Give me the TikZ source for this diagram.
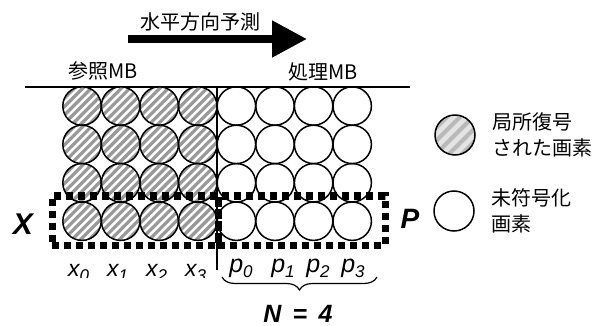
\documentclass[tikz,border=0pt]{standalone}
\usepackage{fontspec}
\setmainfont{Liberation Sans}
\newfontfamily\jpfont{Noto Sans CJK JP}
\usetikzlibrary{arrows.meta, positioning, decorations.pathreplacing}
\definecolor{stripegray}{HTML}{999999}
\newcommand{\subidx}[1]{\raisebox{-5pt}{\fontsize{17}{17}\selectfont #1}}
\tikzset{
  pix/.style={
    circle, draw, line width=1.5pt, inner sep=0pt, minimum size=38.4pt
  },
  hatched/.style={
    pix, path picture={
      \foreach \s in {-51,-42.5,...,51}
        \draw[stripegray, line width=3.2pt]
          ([xshift={(\s-30)*1pt}, yshift=-30pt]path picture bounding box.center)
          -- ++(60pt,60pt);
    }
  },
  softhatch/.style={
    pix, minimum size=40pt, path picture={
      \foreach \s in {-39,-26,...,39}{
        \draw[gray!22, line width=9pt]
          ([xshift={(\s-30)*1pt}, yshift=-30pt]path picture bounding box.center)
          -- ++(60pt,60pt);
        \draw[gray!55, line width=4pt]
          ([xshift={(\s-30)*1pt}, yshift=-30pt]path picture bounding box.center)
          -- ++(60pt,60pt);
      }
    }
  },
  dotbox/.style={
    draw, line width=7pt, dash pattern=on 7pt off 5pt,
    inner sep=0pt, minimum height=49pt
  },
  bigarrow/.style={-{Triangle[length=35pt,width=35pt]}, line width=8pt},
  rule/.style={line width=1.4pt},
  brace/.style={
    decorate, decoration={brace, mirror, amplitude=13pt}, line width=1.2pt
  },
  jplbl/.style={font=\jpfont\fontsize{20}{26}\selectfont, inner sep=0pt},
  jptxt/.style={jplbl, align=left},
  bigital/.style={font=\bfseries\itshape\fontsize{30}{30}\selectfont, inner sep=0pt},
  nital/.style={font=\bfseries\itshape\fontsize{25}{25}\selectfont, inner sep=0pt},
  smital/.style={font=\itshape\fontsize{23}{23}\selectfont, inner sep=0pt},
  pital/.style={font=\itshape\fontsize{25}{25}\selectfont, inner sep=0pt},
}
\begin{document}
\begin{tikzpicture}[x=1pt, y=-1pt]
  \useasboundingbox (0,0) rectangle (600,326);

  % prediction direction
  \coordinate (arrtail) at (128,39);
  \coordinate (arrtip) at (307,39);
  \draw[bigarrow] (arrtail) -- (arrtip);
  \node[jplbl] (predlbl) at (200.5,21.5) {水平方向予測};

  \node[jplbl] (reflbl) at (103,70.5) {参照MB};
  \node[jplbl] (curlbl) at (323,71.5) {処理MB};

  \coordinate (ruleL) at (25,87);
  \coordinate (ruleR) at (410,87);
  \draw[rule] (ruleL) -- (ruleR);

  % pixels
  \foreach \r in {0,...,3}{
    \foreach \c in {0,...,3}
      \node[hatched] (h\r\c) at ({82+38.6*\c},{106+38.4*\r}) {};
    \foreach \c in {4,...,7}
      \node[pix] (u\r\c) at ({82+38.6*\c},{106+38.4*\r}) {};
  }

  \coordinate (divT) at (217,87);
  \coordinate (divB) at (217,270);
  \draw[rule, line width=1.2pt] (divT) -- (divB);

  % rows used for prediction
  \node[dotbox, minimum width=166pt] (xbox) at (135,220.5) {};
  \node[dotbox, minimum width=167pt] (pbox) at (301.5,220.5) {};
  \node[bigital, anchor=base] (xlbl) at (23,234) {X};
  \node[bigital, anchor=base, font=\bfseries\itshape\fontsize{28}{28}\selectfont] (plbl) at (410,229) {P};

  \begin{scope}
    \clip (40,250) rectangle (216,277);
    \foreach \i in {0,...,3}
      \node[smital, anchor=base] (x\i) at ({78.5+39*\i},276) {x\subidx{\i}};
  \end{scope}

  \node[pital, anchor=base] (p0) at (241,272) {p\subidx{0}};
  \node[pital, anchor=base] (p1) at (283,272) {p\subidx{1}};
  \node[pital, anchor=base] (p2) at (318,272) {p\subidx{2}};
  \node[pital, anchor=base] (p3) at (353,272) {p\subidx{3}};

  \coordinate (brL) at (222,277);
  \coordinate (brR) at (377,277);
  \draw[brace] (brL) -- (brR);
  \node[nital, anchor=base] (nlbl) at (298,322) {N\hspace{0.45em}=\hspace{0.45em}4};

  % legend
  \node[softhatch] (lgdone) at (455,135) {};
  \node[jptxt, right=17pt of lgdone] (lgdonetxt) {局所復号\\された画素};
  \node[pix, minimum size=40pt] (lgdtwo) at (454,211) {};
  \node[jptxt, right=17pt of lgdtwo] (lgdtwotxt) {未符号化\\画素};
\end{tikzpicture}
\end{document}
